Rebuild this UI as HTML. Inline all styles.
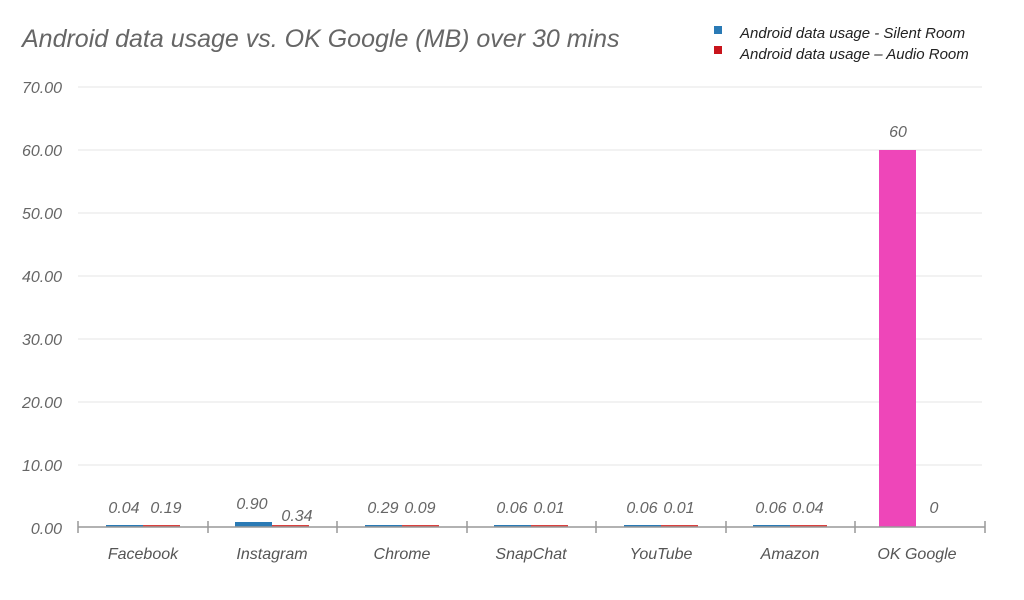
<!DOCTYPE html>
<html><head><style>
body{margin:0;background:#fff;}
text{font-family:"Liberation Sans",sans-serif;font-style:italic;}
</style></head><body>
<svg width="1024" height="595" xmlns="http://www.w3.org/2000/svg">
<text x="22" y="47" font-size="25" fill="#666">Android data usage vs. OK Google (MB) over 30 mins</text>
<rect x="714" y="26" width="8" height="8" fill="#2a7ab5"/>
<text x="740" y="38" font-size="15" fill="#222">Android data usage - Silent Room</text>
<rect x="714" y="46" width="8" height="8" fill="#c8141c"/>
<text x="740" y="59" font-size="15" fill="#222">Android data usage – Audio Room</text>
<g stroke="#e6e6e6" stroke-width="1">
<line x1="78" x2="982" y1="87" y2="87"/><line x1="78" x2="982" y1="150" y2="150"/>
<line x1="78" x2="982" y1="213" y2="213"/><line x1="78" x2="982" y1="276" y2="276"/>
<line x1="78" x2="982" y1="339" y2="339"/><line x1="78" x2="982" y1="402" y2="402"/>
<line x1="78" x2="982" y1="465" y2="465"/>
</g>
<g font-size="16" fill="#666" text-anchor="end">
<text x="62" y="93">70.00</text><text x="62" y="156">60.00</text><text x="62" y="219">50.00</text>
<text x="62" y="282">40.00</text><text x="62" y="345">30.00</text><text x="62" y="408">20.00</text>
<text x="62" y="471">10.00</text><text x="62" y="534">0.00</text>
</g>
<g fill="#2a7ab5">
<rect x="106" y="525" width="37" height="2"/><rect x="235" y="522" width="37" height="5"/>
<rect x="365" y="525" width="37" height="2"/><rect x="494" y="525" width="37" height="2"/>
<rect x="624" y="525" width="37" height="2"/><rect x="753" y="525" width="37" height="2"/>
</g>
<g fill="#d9413f">
<rect x="143" y="525" width="37" height="2"/><rect x="272" y="525" width="37" height="2"/>
<rect x="402" y="525" width="37" height="2"/><rect x="531" y="525" width="37" height="2"/>
<rect x="661" y="525" width="37" height="2"/><rect x="790" y="525" width="37" height="2"/>
</g>
<rect x="879" y="150" width="37" height="377" fill="#ee46b9"/>
<line x1="78" x2="985" y1="527" y2="527" stroke="#999" stroke-width="1.5"/>
<g stroke="#999" stroke-width="1.5">
<line x1="78" x2="78" y1="521" y2="533"/><line x1="208" x2="208" y1="521" y2="533"/>
<line x1="337" x2="337" y1="521" y2="533"/><line x1="467" x2="467" y1="521" y2="533"/>
<line x1="596" x2="596" y1="521" y2="533"/><line x1="726" x2="726" y1="521" y2="533"/>
<line x1="855" x2="855" y1="521" y2="533"/><line x1="985" x2="985" y1="521" y2="533"/>
</g>
<g font-size="16" fill="#666" text-anchor="middle">
<text x="124" y="513">0.04</text><text x="166" y="513">0.19</text>
<text x="252" y="509">0.90</text><text x="297" y="521">0.34</text>
<text x="383" y="513">0.29</text><text x="420" y="513">0.09</text>
<text x="512" y="513">0.06</text><text x="549" y="513">0.01</text>
<text x="642" y="513">0.06</text><text x="679" y="513">0.01</text>
<text x="771" y="513">0.06</text><text x="808" y="513">0.04</text>
<text x="898" y="137">60</text><text x="934" y="513">0</text>
</g>
<g font-size="16" fill="#555" text-anchor="middle">
<text x="143" y="559">Facebook</text><text x="272" y="559">Instagram</text>
<text x="402" y="559">Chrome</text><text x="531" y="559">SnapChat</text>
<text x="661" y="559">YouTube</text><text x="790" y="559">Amazon</text>
<text x="917" y="559">OK Google</text>
</g>
</svg>
</body></html>
